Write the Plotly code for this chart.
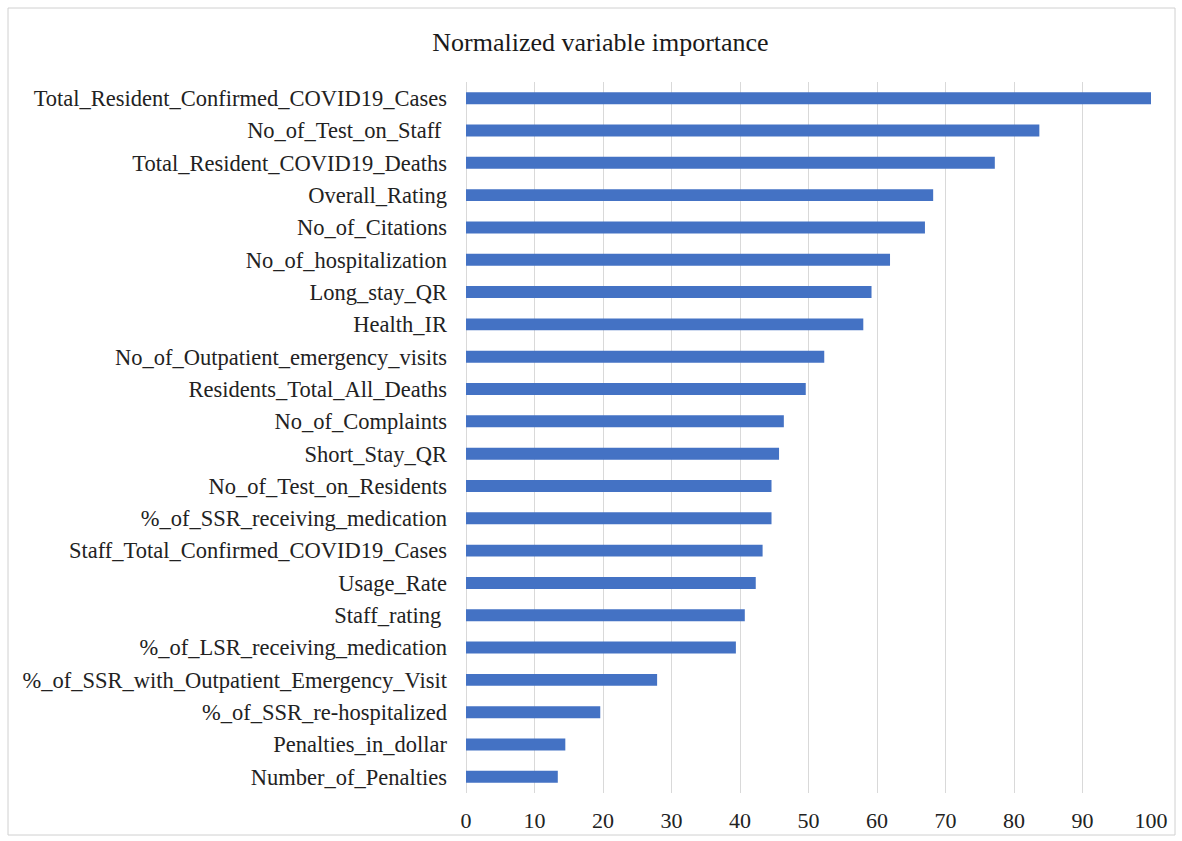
import plotly.graph_objects as go

# Variables ordered from most to least important
variables = [
    "Total_Resident_Confirmed_COVID19_Cases",
    "No_of_Test_on_Staff ",
    "Total_Resident_COVID19_Deaths",
    "Overall_Rating",
    "No_of_Citations",
    "No_of_hospitalization",
    "Long_stay_QR",
    "Health_IR",
    "No_of_Outpatient_emergency_visits",
    "Residents_Total_All_Deaths",
    "No_of_Complaints",
    "Short_Stay_QR",
    "No_of_Test_on_Residents",
    "%_of_SSR_receiving_medication",
    "Staff_Total_Confirmed_COVID19_Cases",
    "Usage_Rate",
    "Staff_rating ",
    "%_of_LSR_receiving_medication",
    "%_of_SSR_with_Outpatient_Emergency_Visit",
    "%_of_SSR_re-hospitalized",
    "Penalties_in_dollar",
    "Number_of_Penalties",
]

importance = [
    100.0, 83.7, 77.2, 68.2, 67.0, 61.9, 59.2, 58.0, 52.3, 49.6, 46.4,
    45.7, 44.6, 44.6, 43.3, 42.3, 40.7, 39.4, 27.9, 19.6, 14.5, 13.4,
]

x_ticks = [0, 10, 20, 30, 40, 50, 60, 70, 80, 90, 100]

FONT = "Liberation Serif, Times New Roman, serif"

fig = go.Figure(
    go.Bar(
        x=importance,
        y=variables,
        orientation="h",
        marker=dict(color="#4472C4", line=dict(width=0)),
    )
)

fig.update_layout(
    width=1182,
    height=841,
    paper_bgcolor="white",
    plot_bgcolor="white",
    bargap=0.63,
    showlegend=False,
    margin=dict(l=466, r=31, t=82, b=48, autoexpand=False),
    title=dict(
        text="Normalized variable importance",
        x=0.508,
        xanchor="center",
        y=1 - 42 / 841,
        yanchor="middle",
        font=dict(family=FONT, size=26, color="#1a1a1a"),
    ),
    font=dict(family=FONT, size=22, color="#222222"),
    shapes=[
        dict(
            type="rect",
            xref="paper",
            yref="paper",
            x0=-458 / 685,
            x1=1175 / 685 - 466 / 685,
            y0=-(835 - 793) / 711,
            y1=1 + (82 - 8) / 711,
            line=dict(color="#d0d0d0", width=1),
            fillcolor="rgba(0,0,0,0)",
            layer="below",
        )
    ],
)

fig.update_xaxes(
    range=[0, 100],
    tickvals=x_ticks,
    ticktext=[str(v) for v in x_ticks],
    automargin=False,
    showgrid=True,
    gridcolor="#d9d9d9",
    gridwidth=1,
    zeroline=True,
    zerolinecolor="#d9d9d9",
    zerolinewidth=1,
    showline=False,
    ticks="",
    ticklabelstandoff=12,
    tickfont=dict(family=FONT, size=22, color="#222222"),
)

fig.update_yaxes(
    autorange="reversed",
    automargin=False,
    showgrid=False,
    showline=False,
    ticks="",
    ticklabelstandoff=18,
    tickfont=dict(family=FONT, size=22.5, color="#222222"),
)

fig.write_html("out.html")
